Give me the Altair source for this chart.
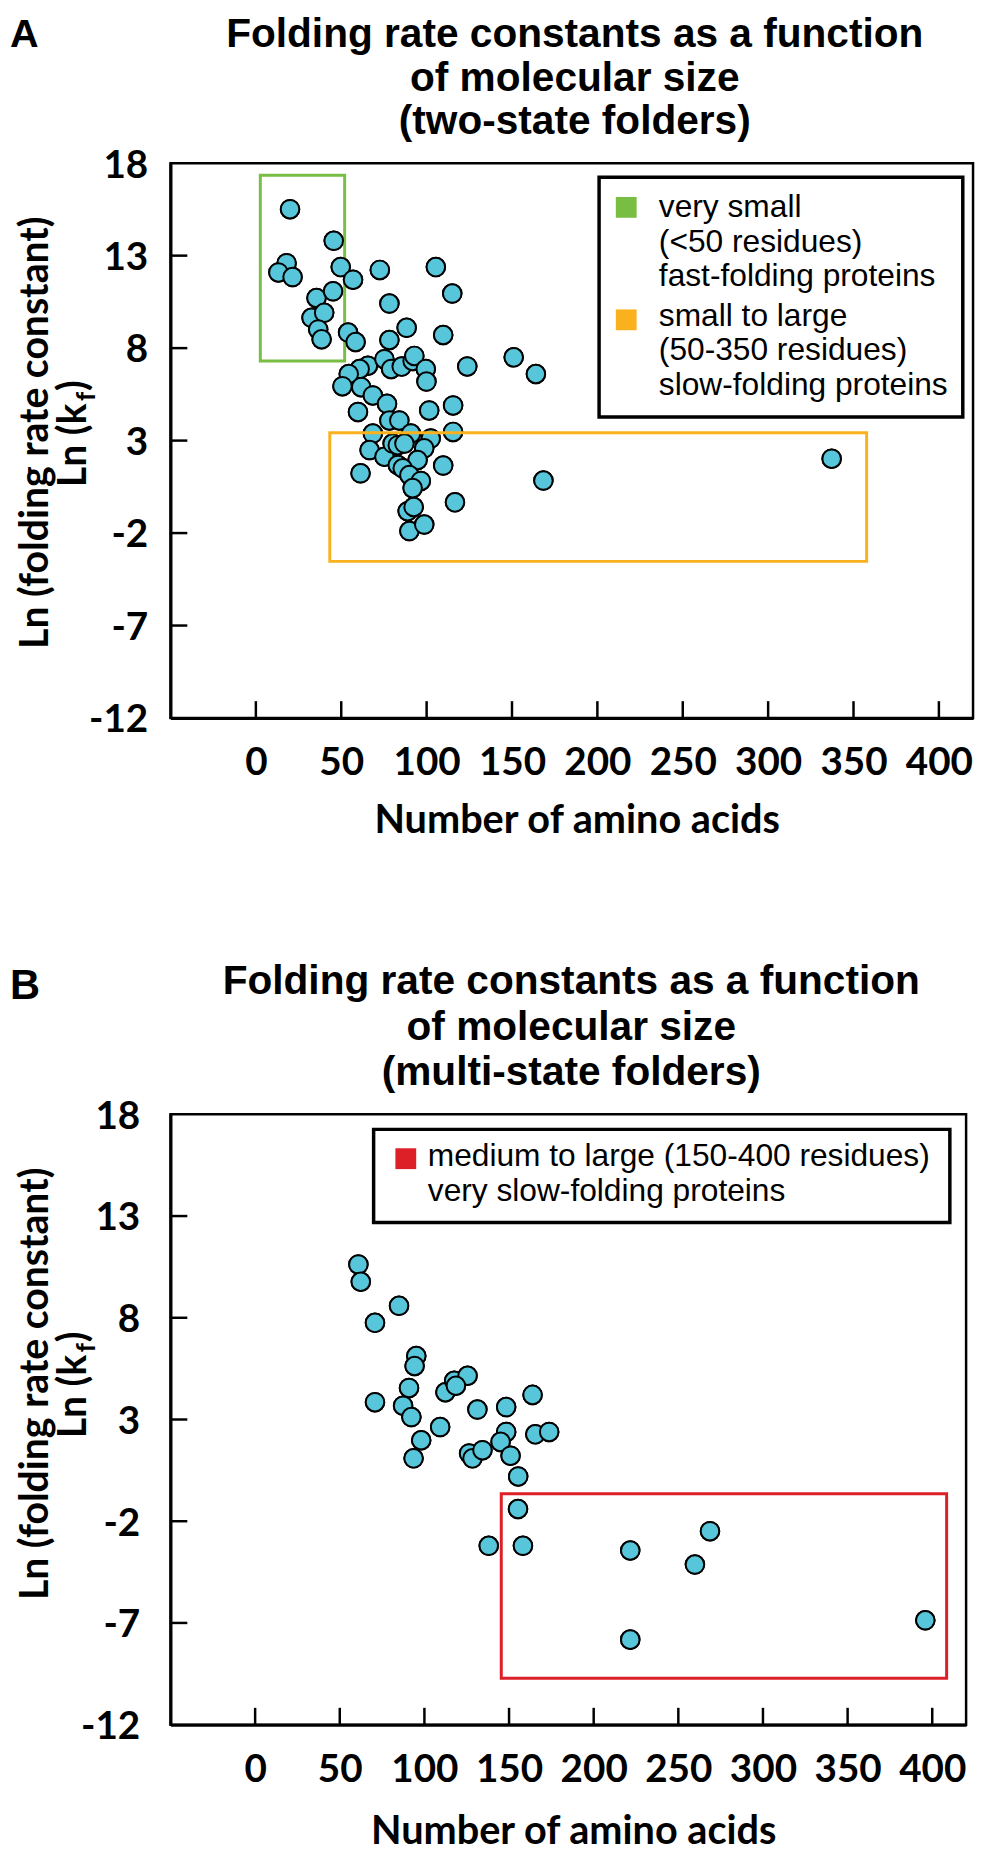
import altair as alt
import pandas as pd

# ---------------- values ----------------
# Panel A - two-state folders
a_residues = [20.0, 45.6, 18.0, 13.2, 21.5, 49.7, 56.9, 72.6, 105.4,
              35.5, 45.2, 32.6, 40.0, 36.5, 38.5, 78.2, 115.0, 54.0, 58.4, 88.3, 78.2, 109.7, 151.0, 164.0, 123.8,
              65.6, 60.8, 75.3, 79.2, 85.4, 91.8, 92.8, 99.5, 99.9, 54.4, 50.7, 61.7, 68.5, 76.8, 59.8, 101.5, 115.5,
              78.2, 84.0, 68.5, 90.8, 102.4, 115.5, 66.6, 75.3, 80.1, 83.1, 87.0, 98.6, 94.7, 109.7, 61.3, 83.1, 86.0, 89.9,
              96.6, 91.8, 168.4, 116.6, 88.9, 92.4, 89.9, 98.6, 337.2]
a_lnkf = [15.51, 13.8, 12.59, 12.09, 11.84, 12.38, 11.7, 12.23, 12.38,
          10.71, 11.07, 9.64, 9.91, 9.01, 8.48, 10.41, 10.95, 8.84, 8.33, 9.1, 8.44, 8.71, 7.5, 6.6, 7.01,
          7.05, 6.87, 7.4, 6.87, 7.0, 7.31, 7.58, 6.87, 6.19, 6.6, 5.94, 5.89, 5.44, 4.99, 4.55, 4.63, 4.9,
          4.09, 4.09, 3.38, 3.38, 3.11, 3.47, 2.49, 2.13, 2.84, 2.75, 2.84, 2.58, 1.95, 1.65, 1.23, 1.68, 1.5, 1.14,
          0.82, 0.43, 0.84, -0.34, -0.82, -0.59, -1.89, -1.54, 2.02]

# Panel B - multi-state folders
b_residues = [61.0, 62.4, 85.0, 70.8, 95.2, 94.2, 90.9, 70.8, 87.4, 92.3,
              98.1, 93.6, 109.3, 112.4, 117.6, 125.5, 118.6, 131.3, 148.3, 163.9,
              148.3, 145.0, 150.9, 155.4, 165.5, 173.7, 126.4, 128.4, 134.3,
              155.3, 138.0, 158.2, 221.6, 268.7, 259.8, 221.6, 395.9]
b_lnkf = [10.62, 9.77, 8.59, 7.75, 6.12, 5.63, 4.55, 3.85, 3.68, 3.12,
          1.98, 1.09, 2.63, 4.34, 4.9, 5.15, 4.66, 3.49, 3.61, 4.21,
          2.39, 1.9, 1.22, 0.2, 2.27, 2.39, 1.33, 1.09, 1.49,
          -1.4, -3.21, -3.21, -3.44, -2.49, -4.13, -7.82, -6.87]

x_tick_values = [0, 50, 100, 150, 200, 250, 300, 350, 400]
y_tick_values = [-12, -7, -2, 3, 8, 13, 18]
y_inner_ticks = [-7, -2, 3, 8, 13]
x_domain = [-50, 420]
y_domain = [-12, 18]

title_a = ["Folding rate constants as a function", "of molecular size", "(two-state folders)"]
title_b = ["Folding rate constants as a function", "of molecular size", "(multi-state folders)"]
x_title = "Number of amino acids"
y_title_1 = "Ln (folding rate constant)"

# highlighted regions (data units): x1, x2, y1, y2
green_box = [2.6, 52.0, 7.3, 17.35]
orange_box = [43.3, 357.7, -3.53, 3.42]
red_box = [145.4, 408.5, -9.72, -0.65]

# legend boxes (data units)
legend_a_box = [201.0, 414.0, 4.28, 17.24]
legend_a_labels = ["very small\n(<50 residues)\nfast-folding proteins",
                   "small to large\n(50-350 residues)\nslow-folding proteins"]
legend_a_sq_x = [216.9, 216.9]
legend_a_sq_y = [15.61, 9.53]
legend_a_tx_x = [236.0, 236.0]
legend_a_tx_y = [15.08, 9.19]

legend_b_box = [70.0, 410.4, 12.68, 17.26]
legend_b_labels = ["medium to large (150-400 residues)\nvery slow-folding proteins"]
legend_b_sq_x = [89.0]
legend_b_sq_y = [15.82]
legend_b_tx_x = [102.0]
legend_b_tx_y = [15.46]

POINT = "#57C6DA"
GREEN = "#77BE43"
ORANGE = "#FAB11E"
RED = "#DD1F27"
AXFONT = "Lato"
TXFONT = "Liberation Sans"


def one(**kw):
    return pd.DataFrame({k: [v] for k, v in kw.items()})


def make_panel(res, lnkf, W, H, letter, title_lines, title_base, title_lh, letter_base, letter_size,
               label_pad, xtitle_y, under_box, under_color, over_box, over_color,
               leg_box, leg_sq_x, leg_sq_y, leg_colors, leg_tx_x, leg_tx_y, leg_labels, leg_lh,
               anchor=False):
    xs = alt.Scale(domain=x_domain, nice=False, zero=False)
    ys = alt.Scale(domain=y_domain, nice=False, zero=False)
    xaxis = alt.Axis(values=x_tick_values, ticks=False, tickSize=0, domain=True,
                     domainColor="black", domainWidth=3, grid=False,
                     labelFont=AXFONT, labelFontWeight="bold", labelFontSize=39,
                     labelColor="black", labelPadding=57, labelBaseline="alphabetic",
                     labelFlush=False, labelOverlap=False, labelExpr="'' + datum.value",
                     title=x_title, titleFont=AXFONT, titleFontWeight="bold",
                     titleFontSize=40, titleColor="black", titleBaseline="alphabetic",
                     titleY=xtitle_y, titleX=W / 2 + 5, titleAlign="center")
    yaxis = alt.Axis(values=y_tick_values, ticks=False, tickSize=0, domain=True,
                     domainColor="black", domainWidth=3, grid=False,
                     labelFont=AXFONT, labelFontWeight="bold", labelFontSize=39,
                     labelColor="black", labelPadding=label_pad, labelBaseline="middle",
                     labelOffset=2, labelFlush=False, labelOverlap=False,
                     labelExpr="'' + datum.value", title=None)

    def X(f):
        return alt.X(f, scale=xs, axis=xaxis)

    def Y(f):
        return alt.Y(f, scale=ys, axis=yaxis)

    df = pd.DataFrame({"residues": res, "lnkf": lnkf})
    layers = []

    def box_layer(b, color, width=3.0, fill=None):
        d = pd.DataFrame({"x1": [b[0]], "x2": [b[1]], "y1": [b[2]], "y2": [b[3]]})
        if fill:
            m = alt.Chart(d).mark_rect(fill=fill, stroke=color, strokeWidth=width)
        else:
            m = alt.Chart(d).mark_rect(fillOpacity=0, stroke=color, strokeWidth=width)
        return m.encode(x=X("x1:Q"), x2="x2:Q", y=Y("y1:Q"), y2="y2:Q")

    pts = alt.Chart(df).mark_circle(size=350, fill=POINT, stroke="black",
                                    strokeWidth=2, opacity=1).encode(
        x=X("residues:Q"), y=Y("lnkf:Q"))
    layers.append(pts)
    if under_box is not None:
        layers.append(box_layer(under_box, under_color))
    layers.append(box_layer(leg_box, "black", 3.5, "white"))
    # redraw points above the under-box
    layers.append(pts)
    layers.append(box_layer(over_box, over_color))

    # inward tick marks
    layers.append(alt.Chart(pd.DataFrame({"t": x_tick_values})).mark_rule(
        color="black", strokeWidth=2.5).encode(
        x=X("t:Q"), y=alt.value(H), y2=alt.value(H - 17)))
    layers.append(alt.Chart(pd.DataFrame({"t": y_inner_ticks})).mark_rule(
        color="black", strokeWidth=2.5).encode(
        y=Y("t:Q"), x=alt.value(0), x2=alt.value(17)))

    # legend squares and labels
    sq = pd.DataFrame({"x": leg_sq_x, "y": leg_sq_y, "c": leg_colors})
    layers.append(alt.Chart(sq).mark_square(size=441, opacity=1).encode(
        x=X("x:Q"), y=Y("y:Q"), color=alt.Color("c:N", scale=None)))
    tx = pd.DataFrame({"x": leg_tx_x, "y": leg_tx_y, "t": leg_labels})
    layers.append(alt.Chart(tx).mark_text(
        align="left", baseline="alphabetic", font=TXFONT, fontSize=32,
        lineBreak="\n", lineHeight=leg_lh, color="black").encode(
        x=X("x:Q"), y=Y("y:Q"), text="t:N"))

    # title and panel letter
    layers.append(alt.Chart(one(t="\n".join(title_lines))).mark_text(
        align="center", baseline="alphabetic", font=TXFONT, fontWeight="bold",
        fontSize=41, lineBreak="\n", lineHeight=title_lh, color="black").encode(
        x=alt.value(W / 2 + 3), y=alt.value(title_base), text="t:N"))
    layers.append(alt.Chart(one(t=letter)).mark_text(
        align="left", baseline="alphabetic", font=TXFONT, fontWeight="bold",
        fontSize=letter_size, color="black").encode(
        x=alt.value(-162), y=alt.value(letter_base), text="t:N"))

    # y-axis title (two lines, second with subscript f)
    layers.append(alt.Chart(one(t=y_title_1)).mark_text(
        angle=270, align="center", baseline="alphabetic", font=AXFONT,
        fontWeight="bold", fontSize=39.5, color="black").encode(
        x=alt.value(-124), y=alt.value(272), text="t:N"))
    layers.append(alt.Chart(one(t="Ln (k")).mark_text(
        angle=270, align="left", baseline="alphabetic", font=AXFONT,
        fontWeight="bold", fontSize=39.5, color="black").encode(
        x=alt.value(-85), y=alt.value(327), text="t:N"))
    layers.append(alt.Chart(one(t="f")).mark_text(
        angle=270, align="left", baseline="alphabetic", font=AXFONT,
        fontWeight="bold", fontSize=26, color="black").encode(
        x=alt.value(-76), y=alt.value(240), text="t:N"))
    layers.append(alt.Chart(one(t=")")).mark_text(
        angle=270, align="left", baseline="alphabetic", font=AXFONT,
        fontWeight="bold", fontSize=39.5, color="black").encode(
        x=alt.value(-85), y=alt.value(230), text="t:N"))

    if anchor:
        # invisible layout anchor fixing the page offset of the plot area
        layers.append(alt.Chart(one(k=0)).mark_rule(strokeOpacity=0, opacity=0).encode(
            x=alt.value(-180), x2=alt.value(-176), y=alt.value(-180), y2=alt.value(-176)))

    return alt.layer(*layers).properties(width=W, height=H)


panel_a = make_panel(a_residues, a_lnkf, 810, 560, "A", title_a, -117, 44, -117, 40,
                     23, 115.5, green_box, GREEN, orange_box, ORANGE,
                     legend_a_box, legend_a_sq_x, legend_a_sq_y, [GREEN, ORANGE],
                     legend_a_tx_x, legend_a_tx_y, legend_a_labels, 34.7, anchor=True)
panel_b = make_panel(b_residues, b_lnkf, 803, 616, "B", title_b, -121, 45.5, -116, 42,
                     31, 120, None, None, red_box, RED,
                     legend_b_box, legend_b_sq_x, legend_b_sq_y, [RED],
                     legend_b_tx_x, legend_b_tx_y, legend_b_labels, 35)

chart = alt.vconcat(panel_a, panel_b, spacing=400, bounds="flush").properties(
    padding={"left": -18, "top": -34, "right": 2, "bottom": 0},
    background="white",
).configure_view(stroke="black", strokeWidth=2.5)

chart.save("out.html", embed_options={"renderer": "svg", "actions": False})
